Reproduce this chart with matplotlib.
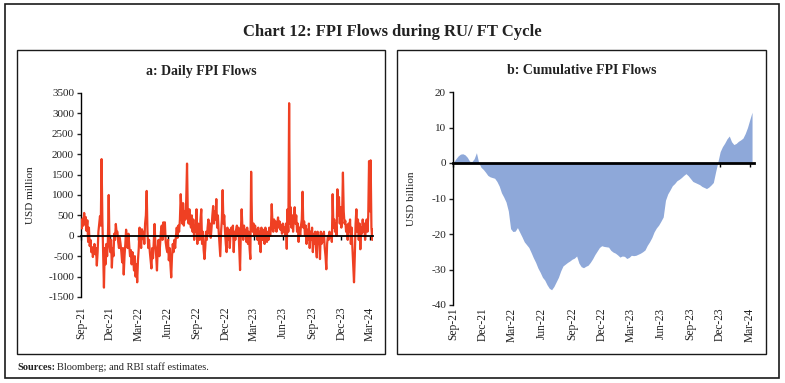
import matplotlib
matplotlib.use('Agg')
import matplotlib.pyplot as plt
import numpy as np
import pandas as pd
from matplotlib.patches import Rectangle

plt.rcParams['font.family'] = ['Liberation Serif', 'DejaVu Serif']
plt.rcParams['axes.unicode_minus'] = False

# ---------------- data ----------------
daily_flows = [
    330, 180, 420, 250, 560, 300, 460,
    120, 380, -150, 200,
    -250, -100, -400, -280, -520, -350, -200,
    -450, -300, -730, -400,
    100, 300, 480, 250,
    1880, 400,
    -400, -1270, -300,
    -700, -200, -500, -100,
    1000,
    -200, -400, -100,
    -780, -300, -500, 50,
    -100, 290, 80, 100,
    -150, -300, -50, -200,
    -400, -650, -300, -950,
    -500, -200, 150, -100, -300, 50, -250,
    -500, -350, -700, -400,
    -600, -850, -500, -1000, -700, -1140,
    -600, -300, 200, -100,
    # 2022 H1
    -300, 160, -80, 100,
    -200, 300, 500, 1100,
    100, -300, -100, -400,
    -600, -800, -300, -550,
    -100, 290, -200, -500,
    -850, -300,
    -100, -500, -200, 100,
    250, -100, 330, 50,
    330, -150, -300, -400,
    -100, -600, -300,
    -700, -1020, -500,
    -200, -400, -100, -300, 0,
    200, -50, 250, 100,
    400, 1020, 600, 300,
    800, 250, 600, 400,
    900, 1770, 500, 300,
    650, 300, 200, 500,
    100, 400, -100, 250,
    100, 650, -200, 300, 150, -100, 400,
    # late 2022 - early 2023
    650, -200, 100, -350,
    -570, -300, 100, -100,
    200, 400, 50, 300, -50, 200,
    500, 730, 300, 600,
    400, 900, 200, 500,
    100, -200, -500, 100,
    400, 1120, 300, 500,
    100, -200, -400, 200,
    -100, 150, -300, 100,
    200, 0, 250, -400, 100, -100,
    150, 250, 0, 200,
    -300, -840, 100, 650,
    200, -100, 250, 0, 150, -150,
    200, -200, 100, -300,
    -570, 1570,
    400, 100, 300, 0, 250, 50,
    150, -100, 200, -200, 100,
    # 2023
    -400, 200, -100, 150,
    100, -200, 200, 50, -150, 100,
    -100, 200, 0, 150,
    775, 300,
    100, 400, 200, 350, 100, 300,
    450, 200, 350, 150,
    250, 50, 300, 100, 200, 0,
    300, -320, 650, 100,
    3250, 300,
    700, 200, 500, 100,
    400, 700, 300, 500,
    100, 300, -150, 200, 0, 250,
    400, 1080, 200, 350,
    0, 250, -200, 150, -100, 300,
    -300, 100, -100, 200,
    -400, 50, -200, 100,
    -300, -530, 100, -200, 0,
    # late 2023 - Mar 2024
    -570, 100,
    -200, 50, -150, 100,
    -300, -500, -820, -200,
    0, -100, 100, -50, 50, -150,
    1020, 200,
    400, 100, 300, 0,
    1140, 500, 950, 300,
    700, 200, 500,
    1550, 600, 300,
    370, 100, 250, -100, 300,
    100, 400, -200, 200,
    -300, -700, -1140, -500,
    300, 650, 100,
    400, -100, 300, -330, 200, 50,
    400, 100, 300, -100, 200, 400,
    100, 500,
    1830, 600, 1850, 200,
    -100, 150,
]

cum_flows = [
    0.3, 1.2, 2.0, 2.5, 2.6, 2.3, 1.6, 0.5, 0.4, 1.2,
    2.9, 0.1, -1.2, -1.8, -2.6, -3.5, -3.9, -4.1, -4.3, -5.2,
    -6.5, -8.4, -9.6, -11.0, -13.5, -18.5, -19.3, -19.2, -18.2, -19.5,
    -20.8, -22.2, -23.0, -23.8, -25.2, -26.7, -28.0, -29.6, -30.8, -32.2,
    -33.0, -34.3, -35.3, -35.7, -34.8, -33.5, -32.2, -30.4, -29.0, -28.5,
    -28.0, -27.6, -27.1, -26.8, -26.2, -28.2, -29.2, -29.5, -29.1, -28.8,
    -28.0, -27.0, -25.8, -24.8, -23.8, -23.3, -23.5, -23.6, -23.7, -24.6,
    -25.1, -25.4, -25.9, -26.5, -26.2, -26.3, -26.9, -26.6, -26.0, -26.1,
    -26.0, -25.7, -25.4, -25.0, -24.5, -23.2, -22.2, -21.0, -19.4, -18.3,
    -17.5, -16.4, -15.2, -10.5, -8.7, -7.6, -6.4, -5.8, -5.0, -4.6,
    -4.1, -3.5, -3.0, -3.6, -4.4, -5.2, -5.5, -5.8, -6.1, -6.6,
    -6.9, -7.2, -6.8, -6.2, -5.5, -2.5, 0.3, 3.2, 4.6, 5.6,
    6.8, 7.6, 6.0, 5.2, 5.5, 6.1, 6.5, 7.0, 8.3, 10.0,
    12.2, 14.3,
]

tick_labels = ['Sep-21', 'Dec-21', 'Mar-22', 'Jun-22', 'Sep-22', 'Dec-22',
               'Mar-23', 'Jun-23', 'Sep-23', 'Dec-23', 'Mar-24']
daily_yticks = list(range(-1500, 3501, 500))
cum_yticks = list(range(-40, 21, 10))

# ---------------- dates ----------------
d0 = pd.Timestamp('2021-09-01')
d1 = pd.Timestamp('2024-03-10')
daily_dates = pd.to_datetime(np.linspace(d0.value, d1.value, len(daily_flows)))
cum_dates = pd.date_range('2021-09-03', periods=len(cum_flows), freq='W-FRI')
tick_dates = pd.date_range('2021-09-01', '2024-03-01', freq='3MS')

W, H = 785, 383
fig = plt.figure(figsize=(W / 100, H / 100), dpi=100)


def fx(x):
    return x / W


def fy(y):
    return 1 - y / H


def box(x0, y0, x1, y1, lw):
    fig.add_artist(Rectangle((fx(x0), fy(y1)), fx(x1) - fx(x0), fy(y0) - fy(y1),
                             transform=fig.transFigure, fill=False,
                             edgecolor='#1a1a1a', linewidth=lw))


box(5, 4, 779, 378, 1.2)
box(17, 50, 385, 354, 1.0)
box(397, 50, 766, 354, 1.0)

fig.text(0.5, fy(32), 'Chart 12: FPI Flows during RU/ FT Cycle', ha='center',
         va='center', fontsize=12, fontweight='bold', color='#222222')
fig.text(fx(201), fy(71), 'a: Daily FPI Flows', ha='center', va='center',
         fontsize=10, fontweight='bold', color='#222222')
fig.text(fx(582), fy(71), 'b: Cumulative FPI Flows', ha='center', va='center',
         fontsize=10, fontweight='bold', color='#222222')


def style(ax, xlim, ylim, yticks, zero_lw, label_pad):
    ax.set_xlim(xlim)
    ax.set_ylim(ylim)
    ax.set_yticks(yticks)
    ax.set_yticklabels([str(v) for v in yticks])
    for s in ['top', 'right']:
        ax.spines[s].set_visible(False)
    ax.spines['left'].set_linewidth(1.0)
    ax.spines['bottom'].set_position(('data', 0))
    ax.spines['bottom'].set_linewidth(zero_lw)
    ax.spines['bottom'].set_zorder(5)
    ax.set_xticks(tick_dates)
    ax.tick_params(axis='x', direction='out', length=3, width=1, labelbottom=False)
    ax.tick_params(axis='y', direction='out', length=3, width=1, labelsize=8,
                   pad=2, colors='#222222')
    sec = ax.secondary_xaxis(0)
    sec.set_xticks(tick_dates, labels=tick_labels)
    sec.tick_params(length=0, pad=label_pad, labelrotation=90, labelsize=8.3,
                    colors='#222222')
    sec.spines['bottom'].set_visible(False)
    ax.patch.set_visible(False)


# Left panel
axL = fig.add_axes([fx(81), fy(297), fx(373) - fx(81), fy(93) - fy(297)])
axL.plot(daily_dates, daily_flows, color='#EF4023', linewidth=1.6, zorder=3)
style(axL, (d0, d1), (-1500, 3500), daily_yticks, 1.3, 7)
axL.set_ylabel('USD million', fontsize=8, color='#222222')
axL.yaxis.set_label_coords((35 - 81) / 292, 0.5)

# Right panel
axR = fig.add_axes([fx(453), fy(305), fx(754) - fx(453), fy(92) - fy(305)])
axR.fill_between(cum_dates, cum_flows, 0, color='#8EA8D9', linewidth=0, zorder=2)
style(axR, (d0, pd.Timestamp('2024-03-14')), (-40, 20), cum_yticks, 2.0, 2)
axR.set_ylabel('USD billion', fontsize=8, color='#222222')
axR.yaxis.set_label_coords((416 - 453) / 301, 0.5)

# Sources line
t1 = fig.text(fx(17), fy(367), 'Sources:', ha='left', va='center', fontsize=7.5,
              fontweight='bold', color='#222222')
fig.canvas.draw()
bb = t1.get_window_extent()
fig.text(bb.x1 / W + 2 / W, fy(367), 'Bloomberg; and RBI staff estimates.',
         ha='left', va='center', fontsize=7.5, color='#222222')

fig.savefig('out.png', dpi=100)
